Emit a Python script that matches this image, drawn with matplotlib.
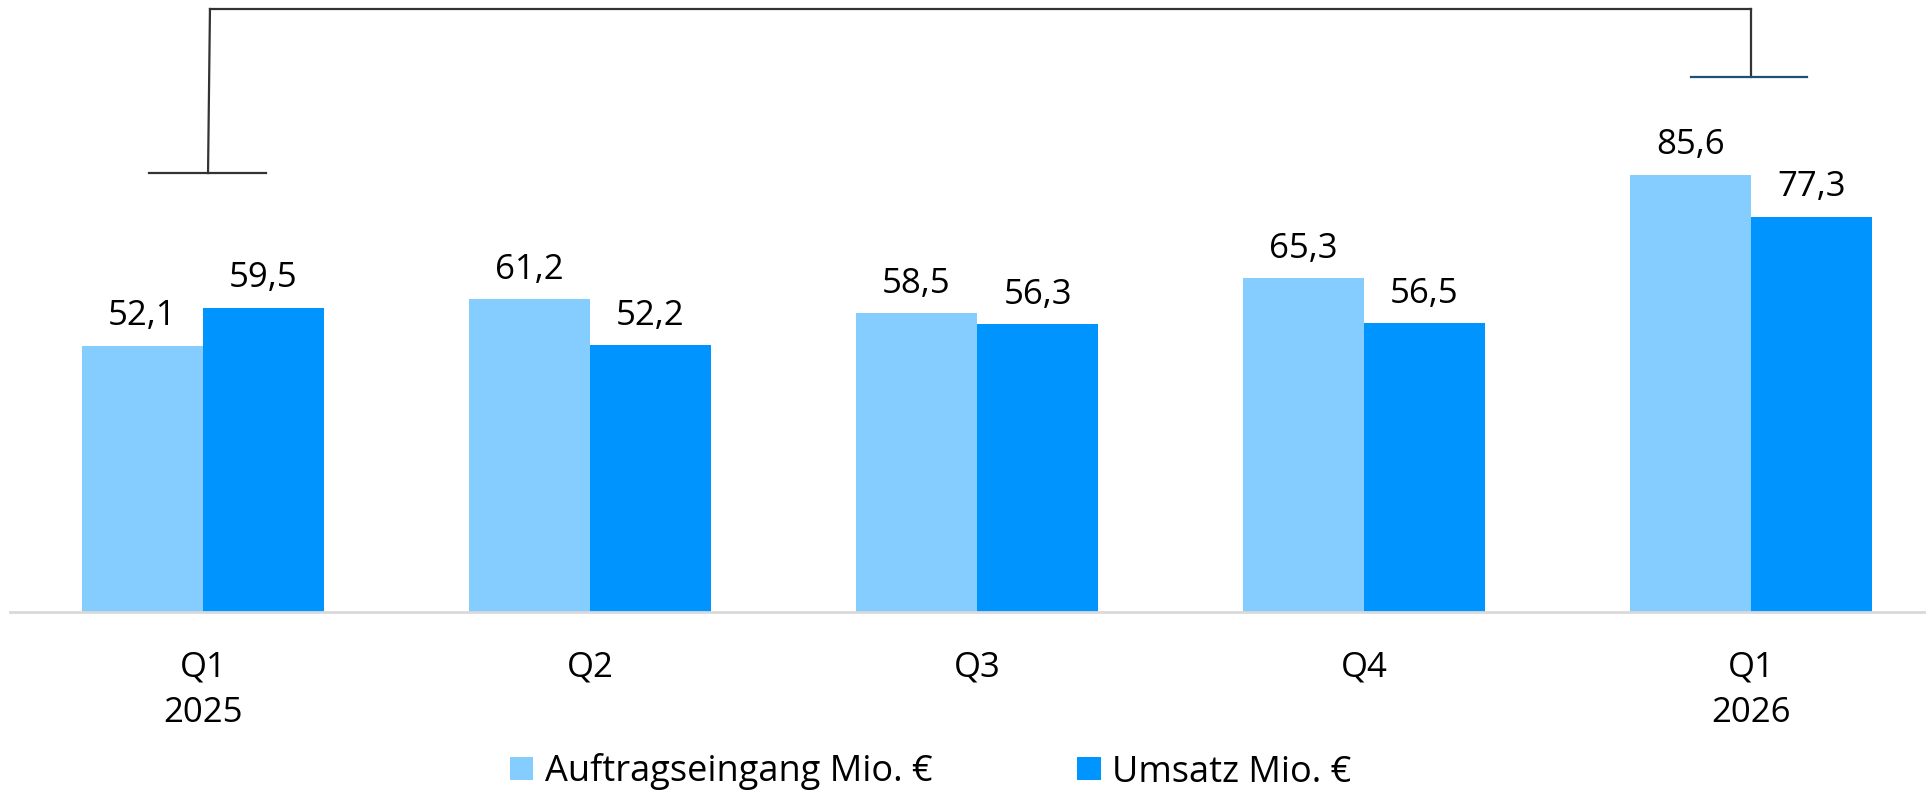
import matplotlib.pyplot as plt
import numpy as np

# quarterly figures, Mio. EUR
quarters = ['Q1\n2025', 'Q2', 'Q3', 'Q4', 'Q1\n2026']
auftragseingang = [52.1, 61.2, 58.5, 65.3, 85.6]
umsatz = [59.5, 52.2, 56.3, 56.5, 77.3]
series_names = ['Auftragseingang Mio. €', 'Umsatz Mio. €']

# bracket connecting first and last quarter (levels in data units)
bracket_left = 85.9
bracket_right = 104.7
bracket_top = 118.0

plt.rcParams['font.family'] = ['Open Sans', 'DejaVu Sans']

fig = plt.figure(figsize=(19.26, 7.94), dpi=100)
ax = fig.add_axes([10 / 1926, 182 / 794, 1916 / 1926, 612 / 794])

x = np.arange(len(quarters))
w = 121 / 387
light = '#85CCFF'
dark = '#0094FF'

b1 = ax.bar(x - w / 2, auftragseingang, w, color=light, label=series_names[0])
b2 = ax.bar(x + w / 2, umsatz, w, color=dark, label=series_names[1])

for bars, vals in ((b1, auftragseingang), (b2, umsatz)):
    for rect, v in zip(bars, vals):
        ax.annotate(f'{v:.1f}'.replace('.', ','),
                    (rect.get_x() + rect.get_width() / 2, rect.get_height()),
                    xytext=(0, 9), textcoords='offset points',
                    ha='center', va='bottom', fontsize=25)

# bracket
ax.plot([x[0] - 0.14, x[0] + 0.163], [bracket_left] * 2, color='#333333', lw=1.6, clip_on=False)
ax.plot([x[0] + 0.013, x[0] + 0.018], [bracket_left, bracket_top], color='#333333', lw=1.6, clip_on=False)
ax.plot([x[0] + 0.018, x[-1]], [bracket_top] * 2, color='#333333', lw=1.6, clip_on=False)
ax.plot([x[-1], x[-1]], [bracket_top, bracket_right], color='#333333', lw=1.6, clip_on=False)
ax.plot([x[-1] - 0.155, x[-1] + 0.145], [bracket_right] * 2, color='#1F4E79', lw=1.6, clip_on=False)

ax.set_xlim(-193 / 387, -193 / 387 + 1916 / 387)
ax.set_ylim(0, 612 / 5.11)

ax.set_xticks(x)
ax.set_xticklabels(quarters, fontsize=25, linespacing=1.44)
ax.tick_params(axis='x', length=0, pad=28)
ax.set_yticks([])
for s in ['top', 'right', 'left']:
    ax.spines[s].set_visible(False)
ax.spines['bottom'].set_color('#D9D9D9')
ax.spines['bottom'].set_linewidth(2)

fig.legend(loc='center', bbox_to_anchor=(931 / 1926, 22 / 794), ncol=2, frameon=False,
           fontsize=26, handlelength=0.64, handleheight=0.61, handletextpad=0.33,
           columnspacing=4.0, borderpad=0)

fig.savefig('out.png', dpi=100)
